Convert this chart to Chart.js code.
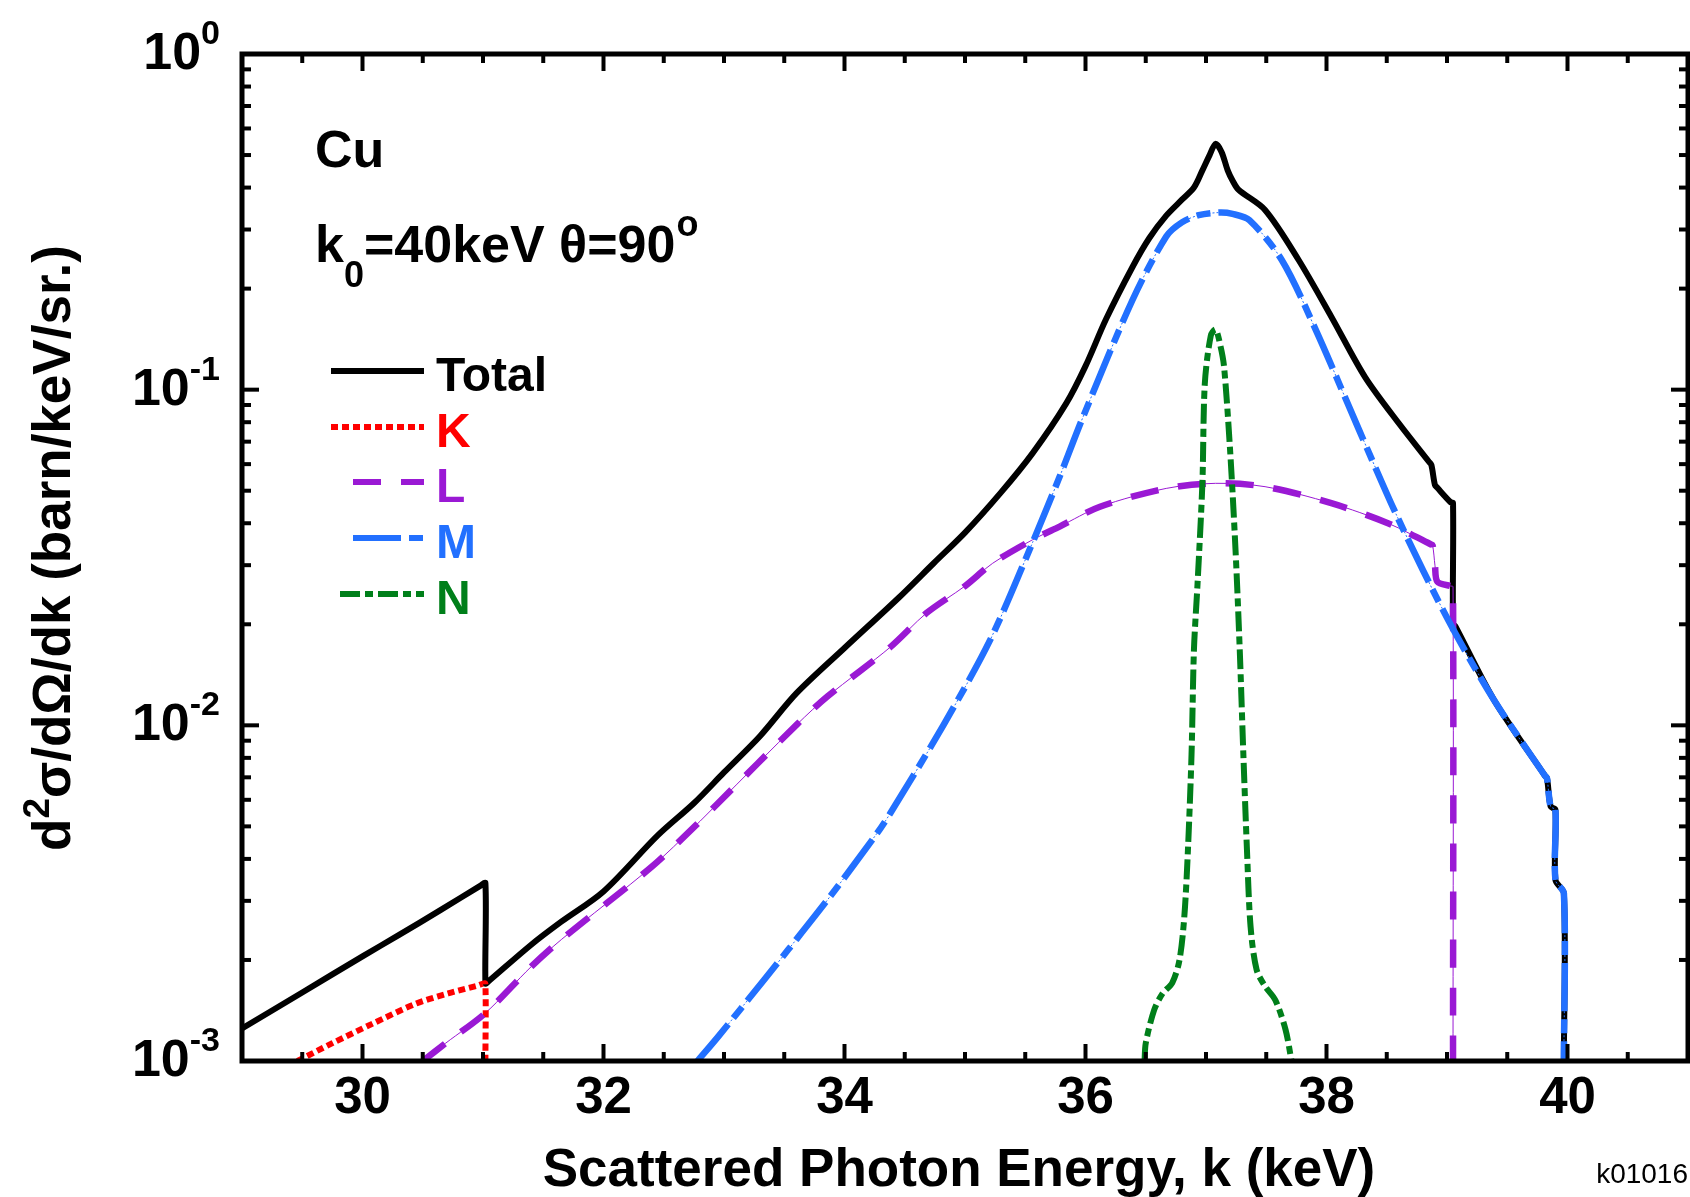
<!DOCTYPE html>
<html>
<head>
<meta charset="utf-8">
<title>Cu k0=40keV</title>
<script src="https://cdn.jsdelivr.net/npm/chart.js@4.4.1/dist/chart.umd.min.js"></script>
<style>
    html, body { margin: 0; padding: 0; background: #fff; }
    #wrap { width: 1690px; height: 1197px; }
</style>
</head>
<body>
<div id="wrap"><canvas id="chart" width="1690" height="1197"></canvas></div>
<script>
// energies (keV) and cross sections (barn/keV/sr.)
const totalK = [29.0, 29.5, 30.0, 30.3, 30.65, 30.98, 31.02, 31.02, 31.04, 31.4, 31.65, 32.0, 32.45, 32.75, 33.0, 33.3, 33.6, 34.0, 34.45, 34.74, 35.0, 35.29, 35.56, 35.84, 36.0, 36.17, 36.39, 36.53, 36.67, 36.8, 36.9, 36.97, 37.03, 37.08, 37.13, 37.18, 37.22, 37.27, 37.49, 37.77, 38.04, 38.32, 38.6, 38.85, 38.87, 38.9, 38.92, 39.03, 39.05, 39.05, 39.07, 39.39, 39.81, 39.83, 39.86, 39.9, 39.9, 39.97, 39.97];
const totalY = [1.25e-3, 1.60e-3, 2.05e-3, 2.37e-3, 2.82e-3, 3.33e-3, 3.39e-3, 1.70e-3, 1.72e-3, 2.22e-3, 2.60e-3, 3.2e-3, 4.7e-3, 5.86e-3, 7.24e-3, 9.3e-3, 0.01245, 0.0170, 0.0240, 0.0304, 0.0375, 0.049, 0.0646, 0.091, 0.1175, 0.162, 0.232, 0.283, 0.33, 0.368, 0.40, 0.45, 0.50, 0.54, 0.51, 0.45, 0.42, 0.394, 0.343, 0.243, 0.165, 0.109, 0.0794, 0.0610, 0.0597, 0.052, 0.051, 0.0462, 0.0459, 0.0201, 0.0197, 0.0119, 0.0071, 0.00695, 0.00573, 0.0056, 0.00346, 0.00316, 0.001];

const kShellK = [29.46, 29.75, 30.08, 30.44, 30.71, 30.96, 31.0, 31.02, 31.02];
const kShellY = [1.0e-3, 1.13e-3, 1.29e-3, 1.48e-3, 1.59e-3, 1.68e-3, 1.70e-3, 1.70e-3, 1.0e-3];

const lShellK = [30.5, 30.69, 31.02, 31.4, 31.65, 32.4, 32.755, 32.95, 33.61, 33.86, 34.38, 34.68, 35.0, 35.23, 35.56, 35.785, 36.12, 36.67, 37.08, 37.49, 38.04, 38.51, 38.86, 38.88, 38.9, 38.92, 39.03, 39.05, 39.05];
const lShellY = [1.0e-3, 1.13e-3, 1.39e-3, 1.91e-3, 2.30e-3, 3.79e-3, 4.99e-3, 5.86e-3, 0.0101, 0.0122, 0.0171, 0.0216, 0.0260, 0.0304, 0.0357, 0.0391, 0.0448, 0.0508, 0.0526, 0.0514, 0.0459, 0.040, 0.0347, 0.0344, 0.030, 0.0268, 0.0260, 0.0259, 0.001];

const mShellK = [32.78, 32.95, 33.335, 33.53, 33.88, 34.27, 34.38, 34.82, 35.21, 35.56, 35.785, 35.98, 36.39, 36.67, 36.8, 36.94, 37.11, 37.22, 37.36, 37.63, 37.91, 38.27, 38.6, 39.01, 39.39, 39.81, 39.83, 39.86, 39.9, 39.9, 39.97, 39.97];
const mShellY = [1.0e-3, 1.18e-3, 1.75e-3, 2.14e-3, 3.09e-3, 4.77e-3, 5.47e-3, 0.0100, 0.018, 0.035, 0.055, 0.083, 0.185, 0.286, 0.315, 0.331, 0.337, 0.334, 0.320, 0.243, 0.151, 0.0759, 0.0409, 0.0206, 0.0119, 0.0071, 0.00695, 0.00573, 0.0056, 0.00346, 0.00316, 0.001];

const nShellK = [36.49, 36.50, 36.57, 36.64, 36.72, 36.78, 36.82, 36.85, 36.88, 36.90, 36.93, 36.97, 36.99, 37.04, 37.08, 37.12, 37.15, 37.20, 37.245, 37.28, 37.31, 37.34, 37.37, 37.42, 37.49, 37.575, 37.66, 37.71];
const nShellY = [1.0e-3, 1.13e-3, 1.42e-3, 1.59e-3, 1.71e-3, 2.0e-3, 2.69e-3, 4.25e-3, 8.2e-3, 0.0168, 0.0265, 0.0526, 0.104, 0.145, 0.151, 0.135, 0.117, 0.066, 0.0333, 0.0168, 8.2e-3, 4.25e-3, 2.51e-3, 1.87e-3, 1.67e-3, 1.52e-3, 1.24e-3, 1.0e-3];

// axis ticks
const xTickLabels = [30, 32, 34, 36, 38, 40];
const yTickExponents = [0, -1, -2, -3];

const FONT = '"Liberation Sans", Arial, Helvetica, sans-serif';
const RED = '#ff0000', PURPLE = '#9a19d4', BLUE = '#2270ff', GREEN = '#007f1a';

function pts(xs, ys) {
    return xs.map((v, i) => ({ x: v, y: ys[i] }));
}

function line(label, xs, ys, color, width, dash, order) {
    return {
        label: label,
        data: pts(xs, ys),
        borderColor: color,
        backgroundColor: color,
        borderWidth: width,
        borderDash: dash,
        borderCapStyle: 'butt',
        borderJoinStyle: 'round',
        pointRadius: 0,
        tension: 0.3,
        fill: false,
        order: order
    };
}

// inward ticks, frame and tick labels
const frame = {
    id: 'frame',
    afterDatasetsDraw(chart) {
        const ctx = chart.ctx, a = chart.chartArea;
        const x = chart.scales.x, y = chart.scales.y;
        ctx.save();
        ctx.strokeStyle = '#000';
        ctx.lineWidth = 4;
        const seg = (x1, y1, x2, y2) => {
            ctx.beginPath(); ctx.moveTo(x1, y1); ctx.lineTo(x2, y2); ctx.stroke();
        };
        for (let i = 1; i < 24; i++) {
            const v = 29 + i * 0.5;
            const px = x.getPixelForValue(v);
            const len = xTickLabels.includes(v) ? 17 : 9;
            seg(px, a.bottom, px, a.bottom - len);
            seg(px, a.top, px, a.top + len);
        }
        for (let e = -3; e <= 0; e++) {
            for (let m = 1; m <= 9; m++) {
                const v = m * Math.pow(10, e);
                if (v > 1 || (e === -3 && m === 1)) continue;
                const py = y.getPixelForValue(v);
                const len = m === 1 ? 17 : 9;
                seg(a.left, py, a.left + len, py);
                seg(a.right, py, a.right - len, py);
            }
        }
        ctx.lineWidth = 5;
        ctx.strokeRect(a.left, a.top, a.right - a.left, a.bottom - a.top);

        ctx.fillStyle = '#000';
        ctx.textBaseline = 'alphabetic';
        ctx.font = 'bold 51px ' + FONT;
        ctx.textAlign = 'center';
        xTickLabels.forEach(v => ctx.fillText(String(v), x.getPixelForValue(v), 1113));

        ctx.textAlign = 'left';
        yTickExponents.forEach(e => {
            const py = y.getPixelForValue(Math.pow(10, e));
            const ex = String(e);
            ctx.font = 'bold 34px ' + FONT;
            const w2 = ctx.measureText(ex).width;
            ctx.font = 'bold 52px ' + FONT;
            const w1 = ctx.measureText('10').width;
            const xr = 220;
            ctx.fillText('10', xr - w2 - w1, py + 15);
            ctx.font = 'bold 34px ' + FONT;
            ctx.fillText(ex, xr - w2, py - 10);
        });
        ctx.restore();
    }
};

// titles, annotations and the legend inside the plot
const labels = {
    id: 'labels',
    afterDraw(chart) {
        const ctx = chart.ctx;
        ctx.save();
        ctx.fillStyle = '#000';
        ctx.textBaseline = 'alphabetic';
        ctx.textAlign = 'left';

        ctx.font = 'bold 52px ' + FONT;
        ctx.fillText('Cu', 315, 167);

        let cx = 315;
        ctx.fillText('k', cx, 262); cx += ctx.measureText('k').width;
        ctx.font = 'bold 36px ' + FONT;
        ctx.fillText('0', cx, 287); cx += ctx.measureText('0').width;
        ctx.font = 'bold 52px ' + FONT;
        ctx.fillText('=40keV \u03b8=90', cx, 262); cx += ctx.measureText('=40keV \u03b8=90').width;
        ctx.font = 'bold 36px ' + FONT;
        ctx.fillText('o', cx + 1, 236);

        // x title
        ctx.font = 'bold 53px ' + FONT;
        ctx.textAlign = 'center';
        ctx.fillText('Scattered Photon Energy, k (keV)', 959, 1186);

        // y title with superscript
        ctx.save();
        ctx.translate(70, 548);
        ctx.rotate(-Math.PI / 2);
        ctx.textAlign = 'left';
        const big = 'bold 53px ' + FONT, small = 'bold 37px ' + FONT;
        ctx.font = big; const wa = ctx.measureText('d').width;
        ctx.font = small; const wb = ctx.measureText('2').width;
        ctx.font = big; const rest = '\u03c3/d\u03a9/dk (barn/keV/sr.)';
        const wc = ctx.measureText(rest).width;
        let tx = -(wa + wb + wc) / 2;
        ctx.fillText('d', tx, 0); tx += wa;
        ctx.font = small; ctx.fillText('2', tx, -21); tx += wb;
        ctx.font = big; ctx.fillText(rest, tx, 0);
        ctx.restore();

        // id tag
        ctx.font = '28px ' + FONT;
        ctx.textAlign = 'right';
        ctx.fillText('k01016', 1688, 1183);

        // legend
        const rows = [
            { ds: 0, text: 'Total', x0: 331, y: 371, color: '#000' },
            { ds: 3, text: 'K', x0: 331, y: 427, color: RED },
            { ds: 4, text: 'L', x0: 353, y: 482, color: PURPLE },
            { ds: 5, text: 'M', x0: 353, y: 538, color: BLUE },
            { ds: 6, text: 'N', x0: 340, y: 594, color: GREEN }
        ];
        ctx.textAlign = 'left';
        ctx.font = 'bold 48px ' + FONT;
        rows.forEach(r => {
            const d = chart.data.datasets[r.ds];
            ctx.strokeStyle = d.borderColor;
            ctx.lineWidth = 6;
            ctx.lineCap = 'butt';
            ctx.setLineDash(d.borderDash || []);
            ctx.beginPath(); ctx.moveTo(r.x0, r.y); ctx.lineTo(424, r.y); ctx.stroke();
            ctx.setLineDash([]);
            ctx.fillStyle = r.color;
            ctx.fillText(r.text, 436, r.y + 20);
        });
        ctx.restore();
    }
};

const ctx = document.getElementById('chart').getContext('2d');
const chart = new Chart(ctx, {
    type: 'line',
    data: {
        datasets: [
            line('Total', totalK, totalY, '#000', 6, [], 10),
            line('L thin', lShellK, lShellY, PURPLE, 1, [], 8),
            line('M thin', mShellK, mShellY, BLUE, 1, [2, 2], 8),
            line('K', kShellK, kShellY, RED, 6, [7, 4], 4),
            line('L', lShellK, lShellY, PURPLE, 6.5, [28, 20], 3),
            line('M', mShellK, mShellY, BLUE, 6.5, [48, 8, 14, 8], 2),
            line('N', nShellK, nShellY, GREEN, 6, [20, 5, 8, 5], 1)
        ]
    },
    options: {
        responsive: false,
        animation: false,
        devicePixelRatio: 1,
        layout: { padding: { left: 242, right: 2, top: 54, bottom: 136 } },
        plugins: {
            legend: { display: false },
            tooltip: { enabled: false }
        },
        scales: {
            x: { type: 'linear', min: 29, max: 41, display: false },
            y: { type: 'logarithmic', min: 0.001, max: 1, display: false }
        }
    },
    plugins: [frame, labels]
});
</script>
</body>
</html>
